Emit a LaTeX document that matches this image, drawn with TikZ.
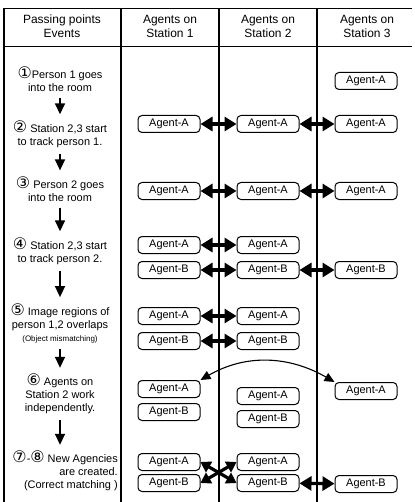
\documentclass[tikz,border=0pt]{standalone}
\usepackage{fontspec}
\setmainfont{Liberation Sans}
\newfontfamily\circfont{DejaVu Sans}
\usetikzlibrary{arrows.meta,positioning}
\newcommand\cnum[1]{{\circfont\fontsize{16}{14}\selectfont #1}}

\begin{document}
\begin{tikzpicture}[x=1bp,y=-1bp,
    agent/.style={draw, rounded corners=4bp, line width=1bp, minimum width=62bp, minimum height=17bp, inner sep=1bp, font=\fontsize{11}{12}\selectfont},
    hdr/.style={align=center, font=\fontsize{12}{14}\selectfont},
    event/.style={align=center, inner sep=0pt, font=\fontsize{11}{13}\selectfont},
    flow/.style={line width=1.5bp, shorten <=6bp, shorten >=6bp, -{Triangle[width=10bp,length=11bp]}},
    link/.style={line width=3.2bp, {Triangle[width=14bp,length=12bp]}-{Triangle[width=14bp,length=12bp]}},
    cross/.style={line width=3.2bp, {Triangle[width=12bp,length=10bp]}-{Triangle[width=12bp,length=10bp]}},
    sync/.style={line width=1.1bp, {Triangle[width=9bp,length=10bp]}-{Triangle[width=9bp,length=10bp]}},
    rule/.style={line width=2bp}]
    \useasboundingbox (0,0) rectangle (414,502);
    \draw[line width=0.8bp] (4,8) -- (412,8) (4,46) -- (412,46);
    \draw[rule] (4,8) -- (4,502) (121,8) -- (121,502) (219,8) -- (219,502) (317,8) -- (317,502);
    \node[hdr] (hdr0) at (62,26) {Passing points\\Events};
    \node[hdr] (hdr1) at (170,26) {Agents on\\Station 1};
    \node[hdr] (hdr2) at (268,26) {Agents on\\Station 2};
    \node[hdr] (hdr3) at (367,26) {Agents on\\Station 3};

    \node[event] (ev1) at (60,79) {\cnum{①}Person 1 goes\\into the room};
    \node[event] (ev2) at (60,134) {\cnum{②} Station 2,3 start\\to track person 1.};
    \node[event] (ev3) at (60,189) {\cnum{③} Person 2 goes\\into the room};
    \node[event] (ev4) at (60,251) {\cnum{④} Station 2,3 start\\to track person 2.};
    \node[event] (ev5) at (60,323) {\cnum{⑤} Image regions of\\person 1,2 overlaps\\{\fontsize{8}{9}\selectfont (Object mismatching)}};
    \node[event] (ev6) at (60,394) {\cnum{⑥} Agents on\\Station 2 work\\independently.};
    \node[event, align=right, anchor=east] (ev7) at (118,471) {\cnum{⑦}-\cnum{⑧} New Agencies\\are created.\\(Correct matching )};
    \draw[flow] (ev1) -- (ev2);
    \draw[flow] (ev2) -- (ev3);
    \draw[flow] (ev3) -- (ev4);
    \draw[flow] (ev4) -- (ev5);
    \draw[flow] (ev5) -- (ev6);
    \draw[flow] (ev6.south) -- (ev6.south |- ev7.north);

    \node[agent] (s3a1) at (366,81) {Agent-A};

    \node[agent] (s1a2) at (169,124) {Agent-A};
    \node[agent] (s2a2) at (268,124) {Agent-A};
    \node[agent] (s3a2) at (366,124) {Agent-A};
    \draw[link] (s1a2) -- (s2a2);
    \draw[link] (s2a2) -- (s3a2);

    \node[agent] (s1a3) at (169,191) {Agent-A};
    \node[agent] (s2a3) at (268,191) {Agent-A};
    \node[agent] (s3a3) at (366,191) {Agent-A};
    \draw[link] (s1a3) -- (s2a3);
    \draw[link] (s2a3) -- (s3a3);

    \node[agent] (s1a4) at (169,245) {Agent-A};
    \node[agent] (s2a4) at (268,245) {Agent-A};
    \node[agent] (s1b4) at (169,270) {Agent-B};
    \node[agent] (s2b4) at (268,270) {Agent-B};
    \node[agent] (s3b4) at (366,270) {Agent-B};
    \draw[link] (s1a4) -- (s2a4);
    \draw[link] (s1b4) -- (s2b4);
    \draw[link] (s2b4) -- (s3b4);

    \node[agent] (s1a5) at (169,316) {Agent-A};
    \node[agent] (s2a5) at (268,316) {Agent-A};
    \node[agent] (s1b5) at (169,341) {Agent-B};
    \node[agent] (s2b5) at (268,341) {Agent-B};
    \draw[link] (s1a5) -- (s2a5);
    \draw[link] (s1b5) -- (s2b5);

    \node[agent] (s1a6) at (169,389) {Agent-A};
    \node[agent] (s1b6) at (169,412) {Agent-B};
    \node[agent] (s2a6) at (268,396) {Agent-A};
    \node[agent] (s2b6) at (268,419) {Agent-B};
    \node[agent] (s3a6) at (366,391) {Agent-A};
    \draw[sync] (s1a6.north east) to[out=30,in=150] (s3a6.north west);

    \node[agent] (s1a7) at (169,462) {Agent-A};
    \node[agent] (s1b7) at (169,483) {Agent-B};
    \node[agent] (s2a7) at (268,462) {Agent-A};
    \node[agent] (s2b7) at (268,483) {Agent-B};
    \node[agent] (s3b7) at (366,484) {Agent-B};
    \draw[cross] (s1a7.east) -- (s2b7.west);
    \draw[cross] (s1b7.east) -- (s2a7.west);
    \draw[link] (s2b7) -- (s3b7);
\end{tikzpicture}
\end{document}
